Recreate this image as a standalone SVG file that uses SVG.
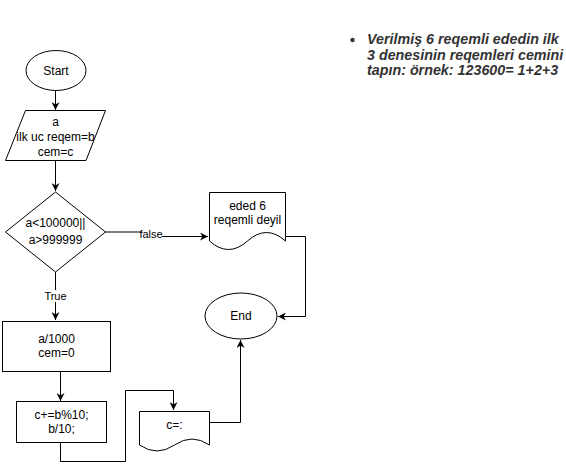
<svg xmlns="http://www.w3.org/2000/svg" width="566" height="470" viewBox="0 0 566 470">
<defs>
<style>
.s{fill:#fff;stroke:#000;stroke-width:1}
.t{font-family:"Liberation Sans",Arial,sans-serif;font-size:12px;fill:#000;text-anchor:middle}
.l{font-family:"Liberation Sans",Arial,sans-serif;font-size:11px;fill:#000;text-anchor:middle}
.c{fill:none;stroke:#000;stroke-width:1}
.b{font-family:"Liberation Sans",Arial,sans-serif;font-size:14.3px;font-weight:bold;font-style:italic;fill:#333}
</style>
<marker id="a" viewBox="0 0 10 10" refX="10" refY="5" markerWidth="8" markerHeight="8" markerUnits="userSpaceOnUse" orient="auto">
<path d="M0,0 L10,5 L0,10 L3,5 Z" fill="#000"/>
</marker>
</defs>
<rect width="566" height="470" fill="#fff"/>
<g id="connectors">
<path class="c" d="M55.5,90 V110" marker-end="url(#a)"/>
<path class="c" d="M55.5,160 V191" marker-end="url(#a)"/>
<path class="c" d="M105,232 H158 V236.5 H208" marker-end="url(#a)"/>
<path class="c" d="M55.5,272 V320" marker-end="url(#a)"/>
<path class="c" d="M285.5,236.5 H305.5 V316.5 H278" marker-end="url(#a)"/>
<path class="c" d="M60.5,371 V401" marker-end="url(#a)"/>
<path class="c" d="M60.5,442 V461.5 H125.5 V390.5 H173.5 V410" marker-end="url(#a)"/>
<path class="c" d="M209,422.5 H240.5 V340" marker-end="url(#a)"/>
<rect x="142" y="228" width="20" height="12" fill="#fff"/>
<text class="l" x="151" y="238">false</text>
<rect x="44" y="290" width="23" height="12" fill="#fff"/>
<text class="l" x="55.5" y="300">True</text>
</g>
<g id="start">
<ellipse class="s" cx="56" cy="70.5" rx="30" ry="20"/>
<text class="t" x="56" y="75">Start</text>
</g>
<g id="input">
<path class="s" d="M25.5,110.5 H105.5 L86,160.5 H5.5 Z"/>
<text class="t" x="55.5" y="126">a</text>
<text class="t" x="55.5" y="141">ilk uc reqem=b</text>
<text class="t" x="55.5" y="156">cem=c</text>
</g>
<g id="decision">
<path class="s" d="M55.5,192 L105.5,232 L55.5,272 L5.5,232 Z"/>
<text class="t" x="55.5" y="227">a&lt;100000||</text>
<text class="t" x="55.5" y="244">a&gt;999999</text>
</g>
<g id="doc-error">
<path class="s" d="M209.5,192.5 H285.5 V241 Q266.5,224 247.5,241 Q228.5,258 209.5,241 Z"/>
<text class="t" x="247.5" y="210">eded 6</text>
<text class="t" x="247.5" y="224">reqemli deyil</text>
</g>
<g id="end">
<ellipse class="s" cx="241" cy="316" rx="36" ry="23"/>
<text class="t" x="241" y="320">End</text>
</g>
<g id="process1">
<rect class="s" x="2.5" y="321.5" width="108" height="50"/>
<text class="t" x="56.5" y="343">a/1000</text>
<text class="t" x="56.5" y="357">cem=0</text>
</g>
<g id="process2">
<rect class="s" x="16.5" y="401.5" width="90" height="41"/>
<text class="t" x="61.5" y="419">c+=b%10;</text>
<text class="t" x="61.5" y="433">b/10;</text>
</g>
<g id="doc-output">
<path class="s" d="M139.5,411.5 H209.5 V445 Q192,433 174.5,445 Q157,457 139.5,445 Z"/>
<text class="t" x="174.5" y="429">c=:</text>
</g>
<g id="note">
<circle cx="352.5" cy="40" r="2.2" fill="#333"/>
<text class="b" x="367" y="44">Verilmiş 6 reqemli ededin ilk</text>
<text class="b" x="367" y="59.5">3 denesinin reqemleri cemini</text>
<text class="b" x="367" y="75">tapın: örnek: 123600= 1+2+3</text>
</g>
</svg>
